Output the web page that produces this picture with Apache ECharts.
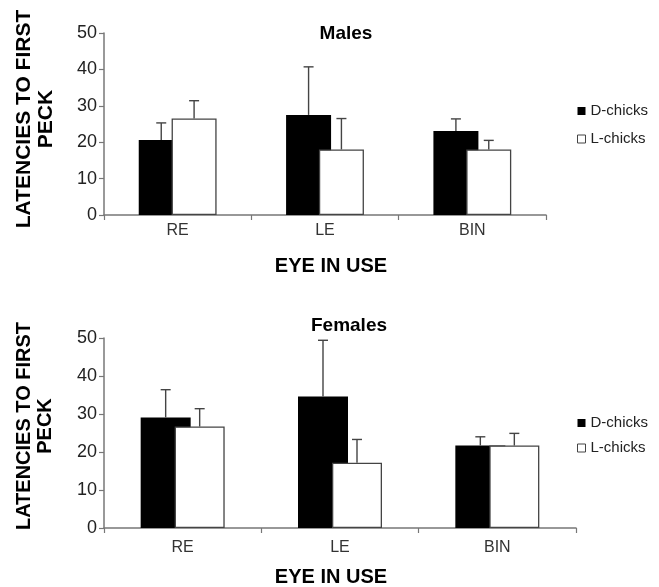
<!DOCTYPE html>
<html>
<head>
    <meta charset="utf-8">
    <title>Latencies to first peck</title>
    <script src="https://cdn.jsdelivr.net/npm/echarts@6/dist/echarts.min.js"></script>
    <style>
        html, body { margin: 0; padding: 0; background: #fff; }
        #chart { width: 659px; height: 587px; }
    </style>
</head>
<body>
<div id="chart"></div>
<script>
    // data
    var categories = ['RE', 'LE', 'BIN'];
    var yTicks = [0, 10, 20, 30, 40, 50];
    var seriesNames = ['D-chicks', 'L-chicks'];

    var malesD = [20.6, 27.5, 23.1];
    var malesDErr = [4.7, 13.2, 3.3];
    var malesL = [26.5, 18.0, 18.0];
    var malesLErr = [4.9, 8.5, 2.5];

    var femalesD = [29.1, 34.6, 21.7];
    var femalesDErr = [7.3, 14.8, 2.3];
    var femalesL = [26.7, 17.2, 21.7];
    var femalesLErr = [4.7, 6.1, 3.2];

    var FONT = '"Liberation Sans", Arial, Helvetica, sans-serif';
    var LINE = '#777';
    var INK = '#444';

    // bar layout for each panel
    var panels = [
        { barWidth: 45, gap: -0.27 },
        { barWidth: 50, gap: -0.32 }
    ];

    function errData(means, errs) {
        return means.map(function (m, i) { return [i, m, errs[i]]; });
    }

    // upper half error bar with cap, shifted onto its bar
    function errorBar(offset) {
        return function (params, api) {
            var base = api.coord([api.value(0), api.value(1)]);
            var top = api.coord([api.value(0), api.value(1) + api.value(2)]);
            var x = base[0] + offset;
            var st = { stroke: INK, lineWidth: 1.4 };
            return {
                type: 'group',
                children: [
                    { type: 'line', shape: { x1: x, y1: base[1], x2: x, y2: top[1] }, style: st },
                    { type: 'line', shape: { x1: x - 5, y1: top[1], x2: x + 5, y2: top[1] }, style: st }
                ]
            };
        };
    }

    function xAxisFor(idx, margin) {
        return {
            type: 'category', gridIndex: idx, data: categories,
            axisLine: { lineStyle: { color: LINE, width: 1.5 } },
            axisTick: { show: true, length: 5, lineStyle: { color: LINE, width: 1.2 } },
            axisLabel: { color: '#333', fontSize: 16, fontFamily: FONT, margin: margin }
        };
    }

    function yAxisFor(idx) {
        return {
            type: 'value', gridIndex: idx, min: yTicks[0], max: yTicks[yTicks.length - 1], interval: 10,
            axisLine: { show: true, lineStyle: { color: LINE, width: 1.5 } },
            axisTick: { show: true, length: 5, lineStyle: { color: LINE, width: 1.2 } },
            axisLabel: { color: '#222', fontSize: 18, fontFamily: FONT, margin: 7 },
            splitLine: { show: false }
        };
    }

    function panelSeries(idx, dVals, dErr, lVals, lErr) {
        var p = panels[idx];
        var off = p.barWidth * (1 + p.gap) / 2;
        return [
            {
                name: seriesNames[0], type: 'bar', xAxisIndex: idx, yAxisIndex: idx,
                data: dVals, barWidth: p.barWidth, barGap: (p.gap * 100) + '%',
                itemStyle: { color: '#000', borderColor: '#000', borderWidth: 0 }
            },
            {
                name: seriesNames[1], type: 'bar', xAxisIndex: idx, yAxisIndex: idx,
                data: lVals, barWidth: p.barWidth, barGap: (p.gap * 100) + '%',
                itemStyle: { color: '#fff', borderColor: INK, borderWidth: 1.3 }
            },
            {
                type: 'custom', xAxisIndex: idx, yAxisIndex: idx, z: 5,
                renderItem: errorBar(-off), data: errData(dVals, dErr)
            },
            {
                type: 'custom', xAxisIndex: idx, yAxisIndex: idx, z: 5,
                renderItem: errorBar(off), data: errData(lVals, lErr)
            }
        ];
    }

    function label(text, x, y, size, rot) {
        return {
            type: 'text', x: x, y: y, rotation: rot || 0,
            style: {
                text: text, fill: '#000', fontSize: size, fontWeight: 'bold', fontFamily: FONT,
                align: 'center', verticalAlign: 'middle', textAlign: 'center', textVerticalAlign: 'middle',
                lineHeight: size + 1
            }
        };
    }

    function legendFor(top, gap) {
        return {
            orient: 'vertical', left: 572, top: top, itemGap: gap,
            itemWidth: 8, itemHeight: 8, icon: 'rect',
            textStyle: { color: '#222', fontSize: 15, fontFamily: FONT, lineHeight: 16 },
            data: [
                { name: seriesNames[0], itemStyle: { color: '#000', borderWidth: 0 } },
                { name: seriesNames[1], itemStyle: { color: '#fff', borderColor: INK, borderWidth: 1 } }
            ]
        };
    }

    var myChart = echarts.init(document.getElementById('chart'), null, { renderer: 'canvas' });
    myChart.setOption({
        animation: false,
        backgroundColor: '#fff',
        grid: [
            { left: 104, top: 33, width: 442, height: 182 },
            { left: 104, top: 338, width: 472, height: 190 }
        ],
        xAxis: [xAxisFor(0, 8), xAxisFor(1, 12)],
        yAxis: [yAxisFor(0), yAxisFor(1)],
        legend: [legendFor(98, 12), legendFor(410, 9)],
        graphic: [
            label('Males', 346, 34, 19),
            label('Females', 349, 326, 19),
            label('EYE IN USE', 331, 266, 20),
            label('EYE IN USE', 331, 577, 20),
            label('LATENCIES TO FIRST\nPECK', 35, 119, 21, Math.PI / 2),
            label('LATENCIES TO FIRST\nPECK', 35, 426, 20, Math.PI / 2)
        ],
        series: panelSeries(0, malesD, malesDErr, malesL, malesLErr)
            .concat(panelSeries(1, femalesD, femalesDErr, femalesL, femalesLErr))
    });
</script>
</body>
</html>
